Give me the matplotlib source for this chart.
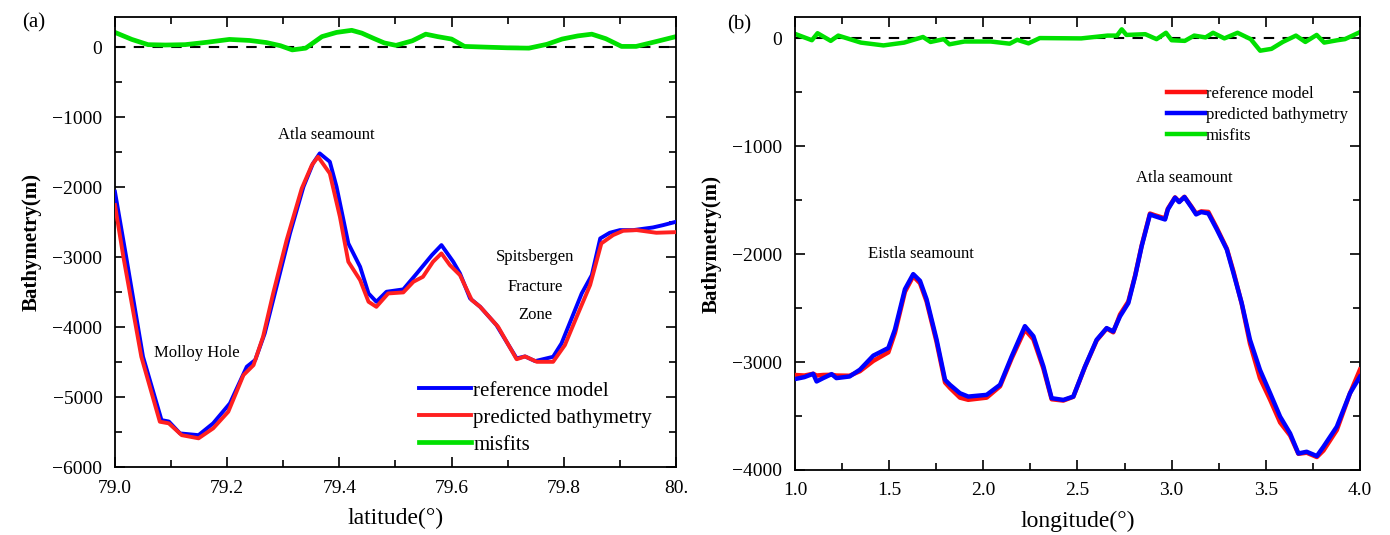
import numpy as np
import matplotlib
matplotlib.use("Agg")
import matplotlib.pyplot as plt
from matplotlib.ticker import MultipleLocator

plt.rcParams['font.family'] = ['Liberation Serif', 'DejaVu Serif']

# ---- panel (a): profile along latitude ----
lat_ref = [79.0, 79.02, 79.05, 79.083, 79.096, 79.116, 79.149, 79.175, 79.205, 79.235,
           79.25, 79.267, 79.288, 79.312, 79.336, 79.353, 79.365, 79.383, 79.395, 79.416,
           79.437, 79.452, 79.466, 79.484, 79.514, 79.538, 79.565, 79.582, 79.603, 79.615,
           79.633, 79.651, 79.68, 79.716, 79.731, 79.749, 79.781, 79.796, 79.814, 79.832,
           79.85, 79.865, 79.882, 79.9, 79.924, 79.959, 79.977, 80.0]
dep_ref = [-2067, -2996, -4424, -5330, -5350, -5520, -5545, -5376, -5090, -4567,
           -4471, -4090, -3424, -2662, -1996, -1662, -1519, -1638, -1996, -2805,
           -3139, -3520, -3639, -3496, -3462, -3234, -2972, -2829, -3067, -3234,
           -3591, -3711, -3972, -4448, -4420, -4487, -4425, -4234, -3877, -3520,
           -3258, -2734, -2653, -2615, -2615, -2577, -2544, -2496]

lat_pred = [79.0, 79.015, 79.047, 79.08, 79.096, 79.119, 79.149, 79.175, 79.202, 79.229,
            79.247, 79.264, 79.282, 79.306, 79.333, 79.351, 79.362, 79.383, 79.401, 79.416,
            79.437, 79.452, 79.466, 79.487, 79.514, 79.532, 79.549, 79.567, 79.582, 79.597,
            79.615, 79.636, 79.651, 79.683, 79.716, 79.731, 79.752, 79.781, 79.802, 79.823,
            79.847, 79.867, 79.888, 79.906, 79.93, 79.965, 80.0]
dep_pred = [-2257, -2996, -4424, -5353, -5376, -5545, -5590, -5448, -5210, -4687,
            -4544, -4139, -3520, -2758, -2019, -1686, -1567, -1805, -2425, -3067,
            -3329, -3639, -3711, -3520, -3505, -3353, -3282, -3067, -2948, -3115,
            -3258, -3614, -3711, -3997, -4460, -4420, -4497, -4497, -4258, -3854,
            -3400, -2805, -2686, -2624, -2615, -2653, -2644]

lat_mis = [79.0, 79.03, 79.059, 79.09, 79.125, 79.165, 79.204, 79.24, 79.27, 79.295,
           79.316, 79.34, 79.369, 79.395, 79.422, 79.44, 79.461, 79.48, 79.501, 79.53,
           79.554, 79.575, 79.6, 79.623, 79.66, 79.699, 79.738, 79.77, 79.797, 79.825,
           79.85, 79.875, 79.903, 79.929, 79.965, 80.0]
mis_a = [210, 110, 35, 30, 35, 70, 110, 95, 65, 20,
         -40, -15, 150, 210, 240, 200, 125, 60, 25, 90,
         185, 150, 115, 10, 0, -10, -15, 40, 115, 160,
         185, 120, 10, 10, 80, 150]

# ---- panel (b): profile along longitude ----
lon = [1.0, 1.05, 1.097, 1.115, 1.15, 1.195, 1.22, 1.29, 1.345, 1.416,
       1.496, 1.531, 1.584, 1.628, 1.664, 1.699, 1.752, 1.797, 1.823, 1.876,
       1.92, 2.018, 2.089, 2.151, 2.221, 2.266, 2.319, 2.363, 2.425, 2.478,
       2.54, 2.602, 2.655, 2.69, 2.726, 2.77, 2.806, 2.841, 2.885, 2.91,
       2.965, 2.98, 3.018, 3.04, 3.068, 3.107, 3.13, 3.157, 3.195, 3.24,
       3.293, 3.328, 3.372, 3.416, 3.469, 3.523, 3.576, 3.629, 3.673, 3.717,
       3.771, 3.806, 3.877, 3.947, 4.0]
dep_b_ref = [-3120, -3125, -3109, -3125, -3120, -3118, -3125, -3127, -3085, -2990,
             -2910, -2730, -2350, -2205, -2270, -2440, -2815, -3190, -3240, -3330,
             -3350, -3330, -3225, -2965, -2700, -2790, -3060, -3345, -3357, -3322,
             -3045, -2800, -2690, -2725, -2560, -2440, -2200, -1920, -1625, -1640,
             -1670, -1580, -1475, -1515, -1470, -1565, -1625, -1605, -1610, -1760,
             -1950, -2160, -2460, -2830, -3150, -3350, -3560, -3680, -3850, -3840,
             -3880, -3820, -3630, -3290, -3070]
dep_b_pred = [-3158, -3140, -3109, -3180, -3149, -3112, -3149, -3134, -3071, -2941,
              -2870, -2699, -2326, -2186, -2248, -2419, -2792, -3165, -3211, -3289,
              -3320, -3304, -3211, -2947, -2668, -2761, -3040, -3335, -3351, -3320,
              -3042, -2794, -2686, -2717, -2577, -2454, -2206, -1927, -1633, -1649,
              -1680, -1587, -1478, -1519, -1472, -1571, -1633, -1611, -1624, -1772,
              -1958, -2175, -2454, -2794, -3073, -3289, -3506, -3661, -3847, -3831,
              -3871, -3785, -3599, -3289, -3135]

lon_mis = [1.0, 1.09, 1.12, 1.19, 1.23, 1.35, 1.47, 1.58, 1.68, 1.72,
           1.79, 1.82, 1.9, 2.04, 2.14, 2.18, 2.24, 2.3, 2.52, 2.66,
           2.71, 2.735, 2.76, 2.86, 2.92, 2.97, 3.0, 3.07, 3.12, 3.18,
           3.22, 3.28, 3.35, 3.42, 3.47, 3.53, 3.59, 3.66, 3.71, 3.77,
           3.81, 3.88, 3.92, 4.0]
mis_b = [39, -20, 45, -26, 23, -42, -68, -42, 10, -36,
         -10, -58, -32, -32, -52, -16, -49, 0, -3, 23,
         23, 81, 29, 36, -10, 49, -20, -26, 23, 6,
         49, -3, 49, -10, -117, -100, -36, 23, -36, 29,
         -42, -20, -10, 55]

fig = plt.figure(figsize=(13.9, 5.35), dpi=100)
ax1 = fig.add_axes([0.0827, 0.1271, 0.4036, 0.8411])
ax2 = fig.add_axes([0.5719, 0.1215, 0.4065, 0.8467])

lw = 2.8
ax1.axhline(0, color='black', lw=1.5, ls=(0, (5, 4)), zorder=1)
ax1.plot(lat_mis, mis_a, color='#00e000', lw=3.4, label='misfits', zorder=2)
ax1.plot(lat_ref, dep_ref, color='#0000ff', lw=lw, label='reference model', zorder=3)
ax1.plot(lat_pred, dep_pred, color='#ff2020', lw=lw, label='predicted bathymetry', zorder=4)

ax1.set_xlim(79.0, 80.0)
ax1.set_ylim(-6000, 430)
ax1.set_xticks([79.0, 79.2, 79.4, 79.6, 79.8, 80.0])
ax1.set_xticklabels(['79.0', '79.2', '79.4', '79.6', '79.8', '80.'])
ax1.xaxis.set_minor_locator(MultipleLocator(0.1))
ax1.set_yticks([0, -1000, -2000, -3000, -4000, -5000, -6000])
ax1.yaxis.set_minor_locator(MultipleLocator(500))
ax1.set_xlabel('latitude(°)', fontsize=17, labelpad=8)
ax1.set_ylabel('Bathymetry(m)', fontsize=15, fontweight='bold', labelpad=8)

h, l = ax1.get_legend_handles_labels()
order = [1, 2, 0]
ax1.legend([h[i] for i in order], [l[i] for i in order], loc='lower left',
           bbox_to_anchor=(0.52, 0.0), frameon=False, fontsize=15,
           handlelength=2.5, handletextpad=0.1, labelspacing=0.35, borderaxespad=0.2)

ax1.text(79.376, -1250, 'Atla seamount', ha='center', va='center', fontsize=12)
ax1.text(79.146, -4367, 'Molloy Hole', ha='center', va='center', fontsize=12)
ax1.text(79.749, -3005, 'Spitsbergen', ha='center', va='center', fontsize=12)
ax1.text(79.749, -3424, 'Fracture', ha='center', va='center', fontsize=12)
ax1.text(79.749, -3830, 'Zone', ha='center', va='center', fontsize=12)

ax2.axhline(0, color='black', lw=1.5, ls=(0, (5, 4)), zorder=1)
ax2.plot(lon_mis, mis_b, color='#00e000', lw=3.2, label='misfits', zorder=2)
ax2.plot(lon, dep_b_ref, color='#ff1010', lw=3.2, label='reference model', zorder=3)
ax2.plot(lon, dep_b_pred, color='#0000ff', lw=3.2, label='predicted bathymetry', zorder=4)

ax2.set_xlim(1.0, 4.0)
ax2.set_ylim(-4000, 195)
ax2.xaxis.set_major_locator(MultipleLocator(0.5))
ax2.xaxis.set_minor_locator(MultipleLocator(0.25))
ax2.set_yticks([0, -1000, -2000, -3000, -4000])
ax2.yaxis.set_minor_locator(MultipleLocator(500))
ax2.set_xlabel('longitude(°)', fontsize=17, labelpad=8)
ax2.set_ylabel('Bathymetry(m)', fontsize=15, fontweight='bold', labelpad=8)

h, l = ax2.get_legend_handles_labels()
ax2.legend([h[i] for i in order], [l[i] for i in order], loc='upper left',
           bbox_to_anchor=(0.64, 0.87), frameon=False, fontsize=12,
           handlelength=2.3, handletextpad=0.05, labelspacing=0.3, borderaxespad=0.2)

ax2.text(1.668, -1998, 'Eistla seamount', ha='center', va='center', fontsize=12)
ax2.text(3.066, -1296, 'Atla seamount', ha='center', va='center', fontsize=12)

for ax in (ax1, ax2):
    ax.tick_params(which='both', direction='in', top=True, right=True, labelsize=14,
                   width=1.2, pad=9)
    ax.tick_params(which='major', length=7)
    ax.tick_params(which='minor', length=5)
    for s in ax.spines.values():
        s.set_linewidth(1.3)

fig.text(0.016, 0.958, '(a)', fontsize=15, va='center')
fig.text(0.523, 0.953, '(b)', fontsize=15, va='center')

fig.savefig('out.png', dpi=100)
